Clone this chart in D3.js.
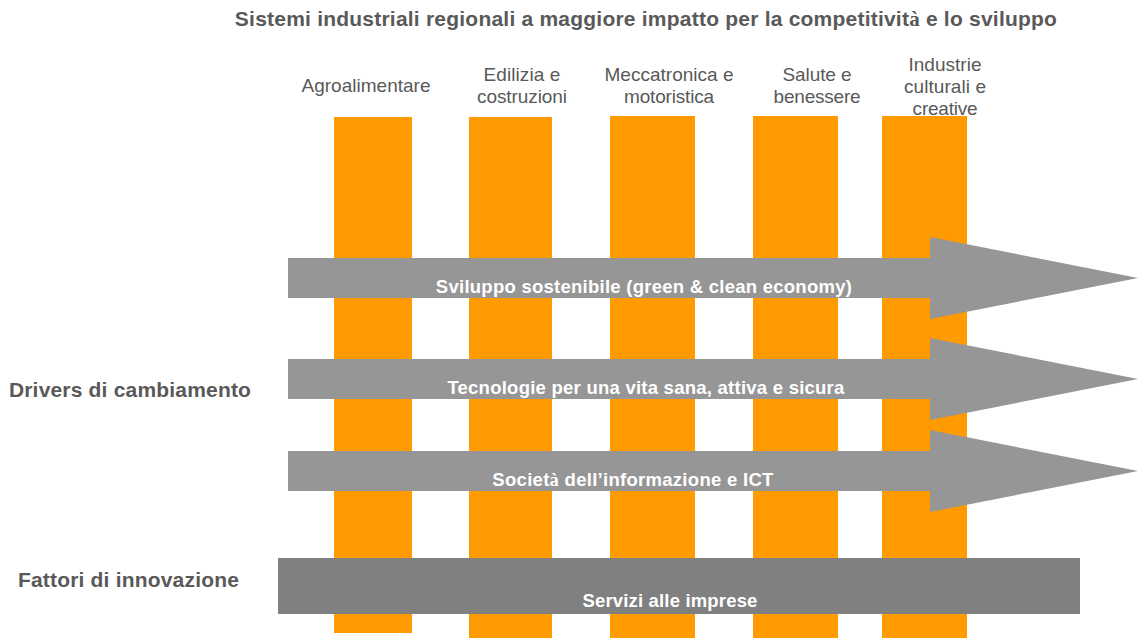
<!DOCTYPE html>
<html>
<head>
<meta charset="utf-8">
<script src="https://cdn.jsdelivr.net/npm/d3@7/dist/d3.min.js"></script>
<style>
html,body{margin:0;padding:0;background:#fff;}
svg{display:block;font-family:"Liberation Sans",Arial,sans-serif;}
</style>
</head>
<body>
<svg id="chart" width="1139" height="638"></svg>
<script>
// ---- data ----
const title = "Sistemi industriali regionali a maggiore impatto per la competitività e lo sviluppo";
const categories = ["Agroalimentare", "Edilizia e costruzioni", "Meccatronica e motoristica", "Salute e benessere", "Industrie culturali e creative"];
const categoryLines = [["Agroalimentare"], ["Edilizia e", "costruzioni"], ["Meccatronica e", "motoristica"], ["Salute e", "benessere"], ["Industrie", "culturali e", "creative"]];
const drivers = ["Sviluppo sostenibile (green & clean economy)", "Tecnologie per una vita sana, attiva e sicura", "Società dell’informazione e ICT"];
const innovation = ["Servizi alle imprese"];
const rowLabels = ["Drivers di cambiamento", "Fattori di innovazione"];

// ---- layout ----
const svg = d3.select("#chart");
const orange = "#FF9A00", arrowGrey = "#969696", bandGrey = "#808080", textGrey = "#595959";

// stretch/shrink letter spacing so a text spans the reference width
function fit(sel, target) {
  const n = sel.node();
  const w = n.getComputedTextLength();
  const chars = n.textContent.length;
  if (chars > 1) sel.attr("letter-spacing", ((target - w) / (chars - 1)).toFixed(3));
}
function richText(sel, str) {
  str.split(/(à)/).forEach(p => {
    if (!p) return;
    const ts = sel.append("tspan").text(p);
    if (p === "à") ts.attr("font-family", "'Liberation Serif','Times New Roman',serif");
  });
}

// bars
const barLeft = [334, 469, 610, 753, 882];
const barWidth = [78, 83, 85, 85, 85];
const barTop = [117, 117, 116, 116, 116];
const barBottom = [633, 638, 638, 638, 638];
const x = d3.scaleOrdinal().domain(categories).range(barLeft);

svg.append("g").selectAll("rect").data(categories).join("rect")
  .attr("x", d => x(d))
  .attr("y", (d, i) => barTop[i])
  .attr("width", (d, i) => barWidth[i])
  .attr("height", (d, i) => barBottom[i] - barTop[i])
  .attr("fill", orange);

// category labels
const labelCenters = [366, 522, 669, 817, 945];
const firstBaseline = { 1: 92, 2: 81, 3: 71 };
const lineWidths = [[129], [77, 90], [129, 90], [69, 87], [73, 82, 65]];
const labelG = svg.append("g");
categoryLines.forEach((lines, i) => {
  lines.forEach((l, j) => {
    const t = labelG.append("text")
      .attr("x", labelCenters[i]).attr("y", firstBaseline[lines.length] + j * 22)
      .attr("text-anchor", "middle").attr("font-size", 19).attr("fill", textGrey)
      .text(l);
    fit(t, lineWidths[i][j]);
  });
});

// title
const tt = svg.append("text").attr("x", 646).attr("y", 26).attr("text-anchor", "middle")
  .attr("font-size", 21).attr("font-weight", "bold").attr("fill", textGrey);
richText(tt, title);
fit(tt, 822);

// driver arrows
const driverY = [278, 379, 471];
const y = d3.scaleOrdinal().domain(drivers).range(driverY);
const driverTextW = [416, 397, 281];
const driverTextX = [644, 646, 633];
const shaftLeft = 288, headBase = 930, tip = 1138, shaftHalf = 20, headHalf = 41;
const arrows = svg.append("g");
drivers.forEach((d, i) => {
  const cy = y(d);
  const pts = [[shaftLeft, cy - shaftHalf], [headBase, cy - shaftHalf], [headBase, cy - headHalf], [tip, cy],
               [headBase, cy + headHalf], [headBase, cy + shaftHalf], [shaftLeft, cy + shaftHalf]];
  arrows.append("path").attr("d", d3.line()(pts) + "Z").attr("fill", arrowGrey);
  const t = arrows.append("text").attr("x", driverTextX[i]).attr("y", cy + 14.5)
    .attr("text-anchor", "middle").attr("font-size", 18.5).attr("font-weight", "bold").attr("fill", "#fff");
  richText(t, d);
  fit(t, driverTextW[i]);
});

// innovation band
const bandY = d3.scaleBand().domain(innovation).range([558, 614]);
svg.append("g").selectAll("rect").data(innovation).join("rect")
  .attr("x", 278).attr("y", d => bandY(d)).attr("width", 1080 - 278).attr("height", bandY.bandwidth())
  .attr("fill", bandGrey);
svg.append("g").selectAll("text").data(innovation).join("text")
  .attr("x", 670).attr("y", d => bandY(d) + 49)
  .attr("text-anchor", "middle").attr("font-size", 18.5).attr("font-weight", "bold").attr("fill", "#fff")
  .text(d => d)
  .each(function () { fit(d3.select(this), 175); });

// row labels
const rowY = [397, 587];
const rowX = [130, 128.5];
const rowW = [242, 221];
svg.append("g").selectAll("text").data(rowLabels).join("text")
  .attr("x", (d, i) => rowX[i]).attr("y", (d, i) => rowY[i])
  .attr("text-anchor", "middle").attr("font-size", 21).attr("font-weight", "bold").attr("fill", textGrey)
  .text(d => d)
  .each(function (d, i) { fit(d3.select(this), rowW[i]); });
</script>
</body>
</html>
